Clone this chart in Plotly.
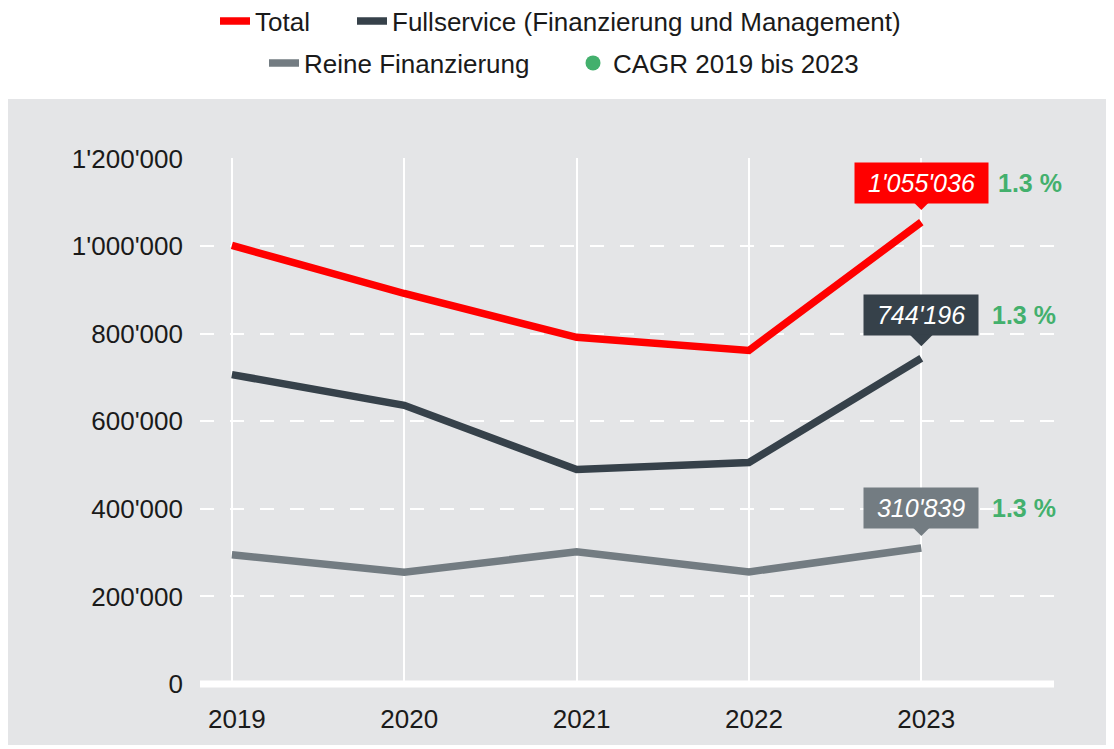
import plotly.graph_objects as go

years = [2019, 2020, 2021, 2022, 2023]
total = [1001900, 892000, 792000, 762000, 1055036]
fullservice = [706700, 636500, 490000, 506000, 744196]
reine = [295200, 255500, 302000, 256000, 310839]

series_names = ["Total", "Fullservice (Finanzierung und Management)", "Reine Finanzierung"]
value_labels = ["1'055'036", "744'196", "310'839"]
cagr_labels = ["1.3 %", "1.3 %", "1.3 %"]
cagr_name = "CAGR 2019 bis 2023"

y_tickvals = [0, 200000, 400000, 600000, 800000, 1000000, 1200000]
y_ticktext = ["0", "200'000", "400'000", "600'000", "800'000", "1'000'000", "1'200'000"]
x_ticktext = ["2019", "2020", "2021", "2022", "2023"]

RED = "#FF0000"
DARK = "#36414A"
GRAY = "#737C82"
GREEN = "#43B06D"
BG = "#E4E5E7"
FONT = "Arial, Liberation Sans, sans-serif"

# figure sits inside the page body (8px default margin)
W, H = 1106, 741
ML, MR, MT, MB = 192, 60, 150, 65

fig = go.Figure()
fig.add_trace(go.Scatter(x=years, y=total, mode="lines", name=series_names[0],
                         line=dict(color=RED, width=7.5), legend="legend", legendwidth=92))
fig.add_trace(go.Scatter(x=years, y=fullservice, mode="lines", name=series_names[1],
                         line=dict(color=DARK, width=7.5), legend="legend"))
fig.add_trace(go.Scatter(x=years, y=reine, mode="lines", name=series_names[2],
                         line=dict(color=GRAY, width=7.5), legend="legend2", legendwidth=264))
fig.add_trace(go.Scatter(x=[None], y=[None], mode="markers", name=cagr_name,
                         marker=dict(color=GREEN, size=15), legend="legend2"))

# value callouts at 2023
for vals, lab, col, cg, xs, off in [(total, value_labels[0], RED, cagr_labels[0], 74.5, 39),
                                    (fullservice, value_labels[1], DARK, cagr_labels[1], 68.5, 43),
                                    (reine, value_labels[2], GRAY, cagr_labels[2], 68.5, 40)]:
    fig.add_annotation(x=years[-1], y=vals[-1], xref="x", yref="y",
                       text="<i>\u00a0" + lab + "\u00a0</i>", showarrow=True,
                       ax=0, ay=-off, arrowhead=1, arrowsize=2.0, arrowwidth=2,
                       arrowcolor=col, standoff=12, bgcolor=col, borderpad=6,
                       font=dict(family=FONT, size=25, color="white"))
    fig.add_annotation(x=years[-1], y=vals[-1], xref="x", yref="y",
                       text="<b>" + cg + "</b>", showarrow=False,
                       xanchor="left", yanchor="middle", xshift=xs, yshift=off,
                       font=dict(family=FONT, size=25, color=GREEN))

# grey panel background
pw = W - ML - MR
ph = H - MT - MB
fig.add_shape(type="rect", xref="paper", yref="paper",
              x0=(0 - ML) / pw, x1=(1098 - ML) / pw,
              y0=(H - MB - 737) / ph, y1=(H - MB - 91) / ph,
              fillcolor=BG, line=dict(width=0), layer="below")
# thick white base line
fig.add_shape(type="line", xref="paper", yref="paper", x0=0, x1=1, y0=0, y1=0,
              line=dict(color="white", width=7), layer="above")

fig.update_layout(
    width=W, height=H,
    margin=dict(l=ML, r=MR, t=MT, b=MB, pad=0),
    paper_bgcolor="white", plot_bgcolor="rgba(0,0,0,0)",
    font=dict(family=FONT, size=26, color="#1a1a1a"),
    legend=dict(orientation="h", xref="container", yref="container",
                x=207 / W, xanchor="left", y=1 - 13 / H, yanchor="middle",
                bgcolor="rgba(0,0,0,0)", font=dict(family=FONT, size=26, color="#1a1a1a"),
                itemwidth=30),
    legend2=dict(orientation="h", xref="container", yref="container",
                 x=256 / W, xanchor="left", y=1 - 55 / H, yanchor="middle",
                 bgcolor="rgba(0,0,0,0)", font=dict(family=FONT, size=26, color="#1a1a1a"),
                 itemwidth=30),
    xaxis=dict(range=[2018.815, 2023.77], tickvals=years, ticktext=x_ticktext,
               showgrid=True, gridcolor="white", gridwidth=2, zeroline=False,
               showline=False, ticks="", ticklabelstandoff=17, ticklabelshift=5,
               tickfont=dict(family=FONT, size=26, color="#1a1a1a"), fixedrange=True),
    yaxis=dict(range=[0, 1201500], tickvals=y_tickvals, ticktext=y_ticktext,
               showgrid=True, gridcolor="white", gridwidth=2, griddash="14px,16px",
               zeroline=False, showline=False, ticks="", ticklabelstandoff=16,
               tickfont=dict(family=FONT, size=26, color="#1a1a1a"), fixedrange=True),
)

fig.write_html("out.html")
